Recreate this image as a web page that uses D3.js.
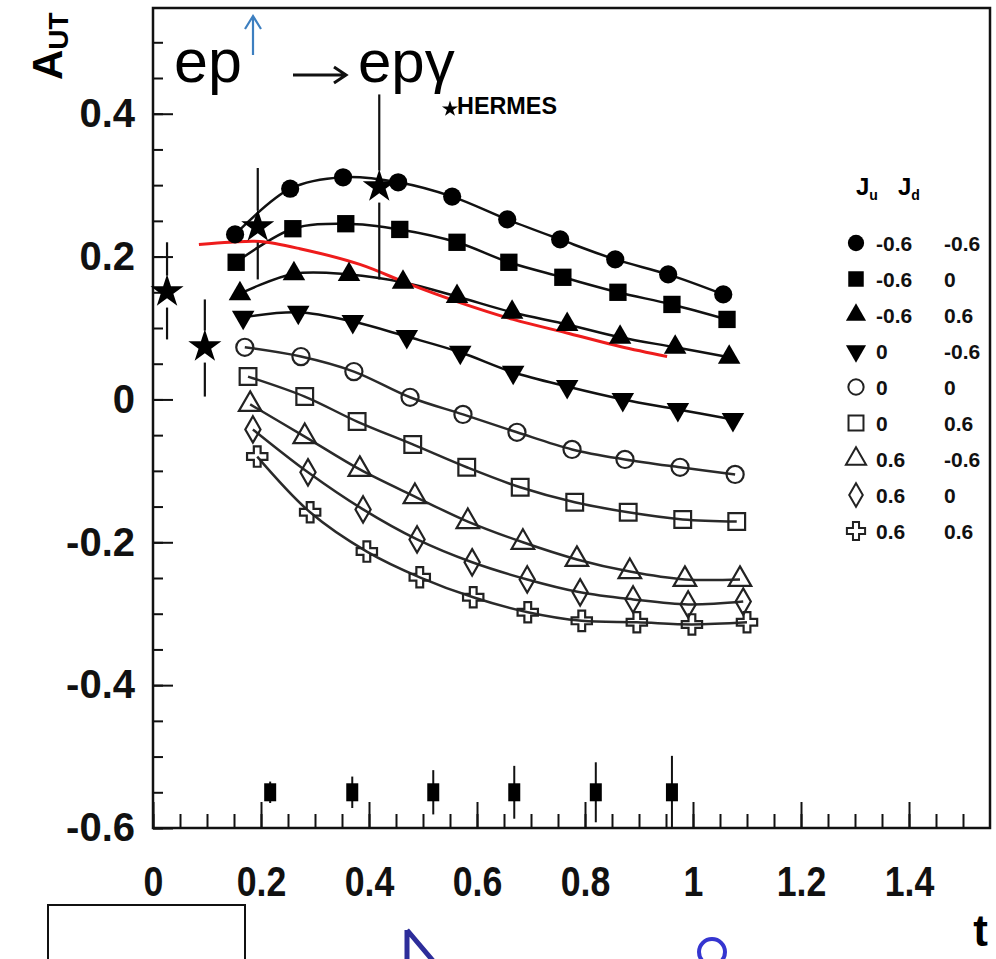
<!DOCTYPE html>
<html>
<head>
<meta charset="utf-8">
<script src="https://cdn.jsdelivr.net/npm/d3@7/dist/d3.min.js"></script>
<style>
  body { margin: 0; background: #fff; }
  text { font-family: "Liberation Sans", Arial, sans-serif; }
  .tickLabel { font-weight: bold; fill: #111; }
  .legendText { font-weight: bold; font-size: 21px; fill: #111; }
</style>
</head>
<body>
<div class="chart"></div>
<script>
// A_UT vs t for DVCS on a transversely polarized proton, model curves for several (Ju, Jd)

// legend values for each curve
var seriesJu = [-0.6, -0.6, -0.6, 0, 0, 0, 0.6, 0.6, 0.6];
var seriesJd = [-0.6, 0, 0.6, -0.6, 0, 0.6, -0.6, 0, 0.6];

// t positions of the points of each curve
var seriesT = [
    [0.152, 0.254, 0.352, 0.454, 0.554, 0.656, 0.754, 0.856, 0.954, 1.056],
    [0.154, 0.259, 0.357, 0.457, 0.563, 0.659, 0.759, 0.861, 0.961, 1.063],
    [0.161, 0.261, 0.363, 0.463, 0.563, 0.665, 0.767, 0.865, 0.967, 1.067],
    [0.167, 0.269, 0.370, 0.470, 0.569, 0.667, 0.767, 0.870, 0.972, 1.074],
    [0.170, 0.274, 0.372, 0.476, 0.574, 0.674, 0.776, 0.874, 0.976, 1.078],
    [0.176, 0.281, 0.378, 0.481, 0.581, 0.680, 0.781, 0.880, 0.981, 1.081],
    [0.180, 0.281, 0.383, 0.485, 0.583, 0.685, 0.785, 0.883, 0.985, 1.087],
    [0.185, 0.287, 0.389, 0.489, 0.591, 0.693, 0.791, 0.889, 0.991, 1.093],
    [0.193, 0.291, 0.396, 0.494, 0.593, 0.694, 0.794, 0.896, 0.998, 1.100]
];

// A_UT values of each curve
var seriesA = [
    [0.231, 0.295, 0.311, 0.304, 0.284, 0.252, 0.224, 0.196, 0.175, 0.147],
    [0.192, 0.239, 0.246, 0.238, 0.220, 0.192, 0.171, 0.150, 0.133, 0.112],
    [0.148, 0.176, 0.175, 0.164, 0.144, 0.122, 0.105, 0.087, 0.073, 0.059],
    [0.115, 0.122, 0.109, 0.088, 0.066, 0.038, 0.018, 0.000, -0.014, -0.028],
    [0.073, 0.060, 0.039, 0.003, -0.021, -0.046, -0.070, -0.084, -0.095, -0.105],
    [0.032, 0.004, -0.031, -0.063, -0.095, -0.123, -0.144, -0.158, -0.168, -0.171],
    [-0.007, -0.052, -0.098, -0.136, -0.171, -0.200, -0.224, -0.241, -0.252, -0.252],
    [-0.042, -0.102, -0.154, -0.196, -0.228, -0.252, -0.270, -0.280, -0.287, -0.283],
    [-0.080, -0.158, -0.213, -0.249, -0.277, -0.298, -0.310, -0.312, -0.315, -0.312]
];

// HERMES points (stars) with error bars
var hermesT = [0.026, 0.096, 0.194, 0.419];
var hermesA = [0.151, 0.074, 0.242, 0.298];
var hermesLo = [0.084, 0.004, 0.168, 0.168];
var hermesHi = [0.220, 0.140, 0.324, 0.427];

// red curve
var redT = [0.085, 0.143, 0.198, 0.272, 0.383, 0.476, 0.563, 0.667, 0.772, 0.865, 0.952];
var redA = [0.217, 0.220, 0.221, 0.211, 0.189, 0.161, 0.137, 0.112, 0.092, 0.074, 0.060];

// projected error bars at the bottom
var binT = [0.217, 0.369, 0.519, 0.669, 0.820, 0.961];
var binA = [-0.55, -0.55, -0.55, -0.55, -0.55, -0.55];
var binErr = [0.015, 0.022, 0.031, 0.037, 0.042, 0.051];

// tick values
var xTicks = [0, 0.2, 0.4, 0.6, 0.8, 1, 1.2, 1.4];
var yTicks = [-0.6, -0.4, -0.2, 0, 0.2, 0.4];

var svgWidth = 996;
var svgHeight = 959;
var margin = { top: 8, right: 6, bottom: 131, left: 153 };
var width = svgWidth - margin.left - margin.right;
var height = svgHeight - margin.top - margin.bottom;

var svg = d3.select(".chart")
    .append("svg")
    .attr("width", svgWidth)
    .attr("height", svgHeight);

var chart = svg.append("g")
    .attr("transform", "translate(" + margin.left + "," + margin.top + ")");

var xScale = d3.scaleLinear().domain([0, 1.55]).range([0, width]);
var yScale = d3.scaleLinear().domain([-0.6, 0.548]).range([height, 0]);

// plain hyphen minus like the original plot
var fmt = function(d) { return d === 0 ? "0" : String(+d.toFixed(1)); };

// minor ticks
var minorX = d3.range(0, 1.55, 0.05);
var minorY = d3.range(-0.6, 0.55, 0.05);

chart.append("g")
    .attr("transform", "translate(0," + height + ")")
    .call(d3.axisBottom(xScale).tickValues(minorX).tickSize(-14).tickFormat(""))
    .call(function(g) { g.select(".domain").remove(); });

var xAxis = chart.append("g")
    .attr("transform", "translate(0," + height + ")")
    .call(d3.axisBottom(xScale).tickValues(xTicks).tickSize(-26).tickPadding(38).tickFormat(fmt))
    .call(function(g) { g.select(".domain").remove(); });

chart.append("g")
    .call(d3.axisLeft(yScale).tickValues(minorY).tickSize(-10).tickFormat(""))
    .call(function(g) { g.select(".domain").remove(); });

var yAxis = chart.append("g")
    .call(d3.axisLeft(yScale).tickValues(yTicks).tickSize(-20).tickPadding(18).tickFormat(fmt))
    .call(function(g) { g.select(".domain").remove(); });

chart.selectAll(".tick line").attr("stroke", "#111").attr("stroke-width", 2);

yAxis.selectAll(".tick text")
    .attr("class", "tickLabel")
    .attr("font-family", null)
    .attr("font-size", null)
    .style("font-size", "40px");

// x labels are tall and narrow in the original
xAxis.selectAll(".tick text")
    .attr("class", "tickLabel")
    .attr("font-family", null)
    .attr("font-size", null)
    .style("font-size", "42px")
    .each(function() {
        var w = this.getComputedTextLength();
        d3.select(this).attr("textLength", w * 0.85).attr("lengthAdjust", "spacingAndGlyphs");
    });

// frame
chart.append("rect")
    .attr("width", width)
    .attr("height", height)
    .attr("fill", "none")
    .attr("stroke", "#111")
    .attr("stroke-width", 2.5);

// model curves
var line = d3.line()
    .x(function(d) { return xScale(d[0]); })
    .y(function(d) { return yScale(d[1]); })
    .curve(d3.curveCatmullRom);

var symbolTypes = [d3.symbolCircle, d3.symbolSquare, d3.symbolTriangle, d3.symbolTriangle,
    d3.symbolCircle, d3.symbolSquare, d3.symbolTriangle, d3.symbolDiamond, d3.symbolCross];
var symbolSizes = [260, 300, 220, 220, 230, 280, 220, 200, 230];
var symbolFilled = [true, true, true, true, false, false, false, false, false];
var symbolRotate = [0, 0, 0, 180, 0, 0, 0, 0, 0];

seriesT.forEach(function(ts, i) {
    var pts = ts.map(function(t, j) { return [t, seriesA[i][j]]; });
    chart.append("path")
        .datum(pts)
        .attr("d", line)
        .attr("fill", "none")
        .attr("stroke", i < 4 ? "#111" : "#2a2a2a")
        .attr("stroke-width", 2.5);
});

// red curve
chart.append("path")
    .datum(redT.map(function(t, j) { return [t, redA[j]]; }))
    .attr("d", line)
    .attr("fill", "none")
    .attr("stroke", "#ee1c1c")
    .attr("stroke-width", 3);

// markers on top
seriesT.forEach(function(ts, i) {
    var sym = d3.symbol().type(symbolTypes[i]).size(symbolSizes[i]);
    chart.append("g").selectAll("path")
        .data(ts.map(function(t, j) { return [t, seriesA[i][j]]; }))
        .enter().append("path")
        .attr("d", sym)
        .attr("transform", function(d) {
            return "translate(" + xScale(d[0]) + "," + yScale(d[1]) + ") rotate(" + symbolRotate[i] + ")";
        })
        .attr("fill", symbolFilled[i] ? "#000" : "none")
        .attr("stroke", symbolFilled[i] ? "none" : "#222")
        .attr("stroke-width", 2.2);
});

// HERMES stars with error bars (broken around the star)
var star = d3.symbol().type(d3.symbolStar).size(340);
hermesT.forEach(function(t, i) {
    var x = xScale(t), y = yScale(hermesA[i]);
    chart.append("line")
        .attr("x1", x).attr("x2", x)
        .attr("y1", yScale(hermesHi[i])).attr("y2", y - 16)
        .attr("stroke", "#111").attr("stroke-width", 2.2);
    chart.append("line")
        .attr("x1", x).attr("x2", x)
        .attr("y1", y + 16).attr("y2", yScale(hermesLo[i]))
        .attr("stroke", "#111").attr("stroke-width", 2.2);
    chart.append("path")
        .attr("d", star)
        .attr("transform", "translate(" + x + "," + y + ")")
        .attr("fill", "#000");
});

// bottom error bars
binT.forEach(function(t, i) {
    var x = xScale(t);
    chart.append("line")
        .attr("x1", x).attr("x2", x)
        .attr("y1", yScale(binA[i] + binErr[i])).attr("y2", yScale(binA[i] - binErr[i]))
        .attr("stroke", "#111").attr("stroke-width", 2);
    chart.append("rect")
        .attr("x", x - 6).attr("y", yScale(binA[i]) - 9)
        .attr("width", 12).attr("height", 18)
        .attr("fill", "#000");
});

// title: ep(up) -> ep gamma
var title = svg.append("g");
title.append("text").attr("x", 174).attr("y", 82)
    .style("font-size", "61px").text("ep");
title.append("path")
    .attr("d", "M253,55 L253,17 M245,29 L253,16 L261,29")
    .attr("fill", "none").attr("stroke", "#3d7fc0").attr("stroke-width", 2.2);
title.append("path")
    .attr("d", "M293,75 L345,75 M334,67 L346,75 L334,83")
    .attr("fill", "none").attr("stroke", "#111").attr("stroke-width", 3);
title.append("text").attr("x", 358).attr("y", 82)
    .style("font-size", "60px").text("ep\u03b3");
title.append("path")
    .attr("d", d3.symbol().type(d3.symbolStar).size(80))
    .attr("transform", "translate(450,109)");
title.append("text").attr("x", 457).attr("y", 114)
    .attr("textLength", 100).attr("lengthAdjust", "spacingAndGlyphs")
    .style("font-size", "24px").style("font-weight", "bold").text("HERMES");

// y axis label
var yLab = svg.append("text")
    .attr("transform", "translate(62,80) rotate(-90)")
    .style("font-weight", "bold").style("font-size", "42px");
yLab.append("tspan").text("A");
yLab.append("tspan").attr("dy", 6).style("font-size", "28px").text("UT");

// x axis label
svg.append("text")
    .attr("x", 988).attr("y", 946)
    .attr("text-anchor", "end")
    .style("font-weight", "bold").style("font-size", "44px")
    .text("t");

// legend
var legend = svg.append("g");
var hdr = legend.append("text").attr("x", 856).attr("y", 195)
    .style("font-weight", "bold").style("font-size", "24px");
hdr.append("tspan").text("J");
hdr.append("tspan").attr("dy", 5).style("font-size", "14px").text("u");
var hdr2 = legend.append("text").attr("x", 898).attr("y", 195)
    .style("font-weight", "bold").style("font-size", "24px");
hdr2.append("tspan").text("J");
hdr2.append("tspan").attr("dy", 5).style("font-size", "14px").text("d");

seriesJu.forEach(function(ju, i) {
    var y = 243 + 36 * i;
    legend.append("path")
        .attr("d", d3.symbol().type(symbolTypes[i]).size(symbolSizes[i] * 0.8))
        .attr("transform", "translate(856," + y + ") rotate(" + symbolRotate[i] + ")")
        .attr("fill", symbolFilled[i] ? "#000" : "none")
        .attr("stroke", symbolFilled[i] ? "none" : "#222")
        .attr("stroke-width", 2);
    legend.append("text").attr("class", "legendText")
        .attr("x", 876).attr("y", y + 8).text(ju);
    legend.append("text").attr("class", "legendText")
        .attr("x", 944).attr("y", y + 8).text(seriesJd[i]);
});

// cropped slide shapes along the bottom edge
svg.append("rect")
    .attr("x", 48).attr("y", 905).attr("width", 197).attr("height", 80)
    .attr("fill", "none").attr("stroke", "#111").attr("stroke-width", 2);
svg.append("path")
    .attr("d", "M407,930 L407,962 M407,930 L434,962")
    .attr("fill", "none").attr("stroke", "#2d2d9a").attr("stroke-width", 5);
svg.append("circle")
    .attr("cx", 712).attr("cy", 952).attr("r", 13)
    .attr("fill", "none").attr("stroke", "#3535d0").attr("stroke-width", 4);
</script>
</body>
</html>
